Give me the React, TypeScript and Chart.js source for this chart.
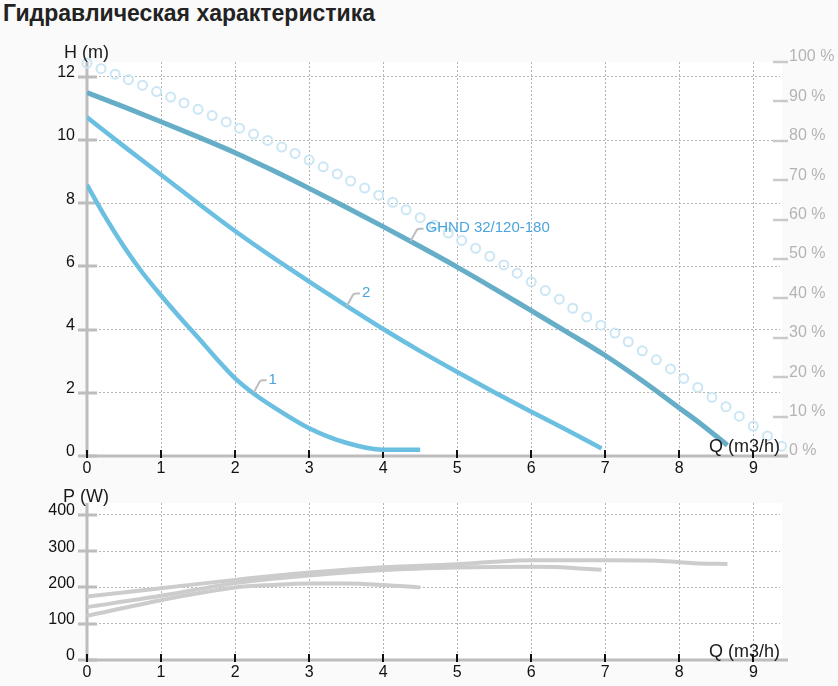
import { useEffect, useRef } from "react";
import { Chart, registerables } from "chart.js";

Chart.register(...registerables);

const FONT = "'Liberation Sans', Arial, sans-serif";

// ---- axis ranges ----
const X_MAX = 9.36;
const H_MAX = 12.47;
const P_MAX = 433;

// ---- H(Q) curves ----
const ghndQ = [0, 0.5, 1, 1.5, 2, 2.5, 3, 3.5, 4, 4.5, 5, 5.5, 6, 6.5, 7, 7.5, 8, 8.3, 8.65];
const ghndH = [11.5, 11.05, 10.58, 10.1, 9.6, 9.05, 8.47, 7.87, 7.26, 6.63, 5.98, 5.3, 4.6, 3.9, 3.18, 2.38, 1.52, 1.0, 0.34];

const speed2Q = [0, 0.5, 1, 1.5, 2, 2.5, 3, 3.5, 4, 4.5, 5, 5.5, 6, 6.5, 6.95];
const speed2H = [10.72, 9.8, 8.9, 8.0, 7.12, 6.3, 5.52, 4.76, 4.02, 3.32, 2.66, 2.02, 1.4, 0.8, 0.24];

const speed1Q = [0, 0.25, 0.5, 0.75, 1, 1.25, 1.5, 1.75, 2, 2.25, 2.5, 3, 3.5, 4, 4.5];
const speed1H = [8.58, 7.55, 6.62, 5.8, 5.08, 4.4, 3.75, 3.08, 2.46, 1.98, 1.58, 0.88, 0.42, 0.2, 0.2];

// ---- efficiency (%) ----
const effQ = [0, 0.19, 0.38, 0.56, 0.75, 0.94, 1.13, 1.31, 1.5, 1.69, 1.88, 2.06, 2.25, 2.44, 2.63, 2.81, 3.0, 3.19, 3.38, 3.56, 3.75, 3.94, 4.13, 4.31, 4.5, 4.69, 4.88, 5.06, 5.25, 5.44, 5.63, 5.81, 6.0, 6.19, 6.38, 6.56, 6.75, 6.94, 7.13, 7.31, 7.5, 7.69, 7.88, 8.06, 8.25, 8.44, 8.63, 8.81, 9.0, 9.19, 9.38];
const effV = [99.7, 98.3, 96.9, 95.5, 94.1, 92.5, 91.1, 89.6, 88.0, 86.4, 84.8, 83.2, 81.7, 80.1, 78.4, 76.8, 75.1, 73.4, 71.6, 69.8, 68.0, 66.2, 64.4, 62.5, 60.5, 58.6, 56.6, 54.7, 52.7, 50.7, 48.5, 46.4, 44.2, 42.0, 39.8, 37.5, 35.3, 33.2, 31.2, 29.0, 26.7, 24.4, 22.1, 19.7, 17.4, 14.9, 12.5, 10.1, 7.6, 5.1, 2.5];

// ---- P(Q) curves ----
const powGhndQ = [0, 1, 2, 3, 4, 5, 5.5, 6, 7, 7.7, 8.2, 8.65];
const powGhndP = [175, 198, 221, 241, 256, 264, 271, 275, 275, 274, 267, 265];
const pow2Q = [0, 1, 2, 3, 4, 5, 6, 6.4, 6.6, 6.95];
const pow2P = [146, 177, 212, 233, 248, 255, 257, 256, 253, 249];
const pow1Q = [0, 1, 2, 2.5, 3, 3.5, 4, 4.5];
const pow1P = [122, 165, 200, 207, 211, 211, 207, 200];

// ---- curve labels ----
const curveLabels = ["GHND 32/120-180", "2", "1"];
const labelAnchorQ = [4.37, 3.51, 2.25];
const labelAnchorH = [6.8, 4.75, 2.0];

const toXY = (qs: number[], vs: number[]) => qs.map((q, i) => ({ x: q, y: vs[i] }));

function line(ctx: CanvasRenderingContext2D, x1: number, y1: number, x2: number, y2: number) {
  ctx.beginPath();
  ctx.moveTo(x1, y1);
  ctx.lineTo(x2, y2);
  ctx.stroke();
}

function makeDecor(yTitle: string, yTitlePos: [number, number], qTitleY: number, withLabels: boolean) {
  return {
    id: "decor",
    beforeDraw(chart: any) {
      const { ctx, chartArea: a } = chart;
      ctx.save();
      ctx.fillStyle = "#ffffff";
      ctx.fillRect(a.left, a.top, a.right - a.left + 2, a.bottom - a.top);
      ctx.restore();
    },
    beforeDatasetsDraw(chart: any) {
      const { ctx, chartArea: a } = chart;
      const xs = chart.scales.x;
      const ys = chart.scales.y;
      ctx.save();
      ctx.lineCap = "butt";
      const y2 = chart.scales.y2;
      if (y2) {
        ctx.strokeStyle = "#cacaca";
        ctx.lineWidth = 2.5;
        y2.ticks.forEach((t: any) => {
          const py = Math.round(y2.getPixelForValue(t.value));
          line(ctx, a.right - 7, py, a.right + 8, py);
        });
      }
      ctx.strokeStyle = "#bdbdbd";
      ctx.lineWidth = 3;
      line(ctx, a.left, a.top, a.left, a.bottom);
      line(ctx, a.left, a.bottom, a.right + 8, a.bottom);
      ys.ticks.forEach((t: any) => {
        const py = Math.round(ys.getPixelForValue(t.value));
        line(ctx, a.left - 9, py, a.left + 10, py);
      });
      ctx.strokeStyle = "#111111";
      ctx.lineWidth = 2;
      xs.ticks.forEach((t: any) => {
        const px = Math.round(xs.getPixelForValue(t.value));
        line(ctx, px, a.bottom - 6, px, a.bottom + 2);
      });
      ctx.restore();
    },
    afterDatasetsDraw(chart: any) {
      const { ctx } = chart;
      ctx.save();
      ctx.fillStyle = "#1a1a1a";
      ctx.font = `18px ${FONT}`;
      ctx.textBaseline = "middle";
      ctx.textAlign = "left";
      ctx.fillText(yTitle, yTitlePos[0], yTitlePos[1]);
      ctx.textAlign = "right";
      ctx.fillText("Q (m3/h)", chart.chartArea.right, qTitleY);
      if (withLabels) {
        const xs = chart.scales.x;
        const ys = chart.scales.y;
        curveLabels.forEach((txt, i) => {
          const px = xs.getPixelForValue(labelAnchorQ[i]);
          const py = ys.getPixelForValue(labelAnchorH[i]);
          ctx.strokeStyle = "#bdbdbd";
          ctx.lineWidth = 2;
          ctx.beginPath();
          ctx.moveTo(px, py);
          ctx.lineTo(px + 6, py - 11);
          ctx.quadraticCurveTo(px + 7, py - 12.5, px + 9, py - 12.5);
          ctx.lineTo(px + 13, py - 12.5);
          ctx.stroke();
          ctx.fillStyle = "#4ba5dc";
          ctx.font = `15px ${FONT}`;
          ctx.textAlign = "left";
          ctx.textBaseline = "middle";
          ctx.fillText(txt, px + 15, py - 13);
        });
      }
      ctx.restore();
    },
  };
}

const tickFont = { family: FONT, size: 16 };

function xScale(h: number) {
  return {
    type: "linear",
    min: 0,
    max: X_MAX,
    ticks: { stepSize: 1, includeBounds: false, font: tickFont, color: "#111", padding: 3, maxRotation: 0, autoSkip: false },
    grid: { color: "#b4b4b4", lineWidth: 1, drawTicks: false },
    border: { display: false, dash: [2, 2] },
    afterFit: (s: any) => {
      s.height = h;
    },
  };
}

export default function App() {
  const topRef = useRef<HTMLCanvasElement>(null);
  const botRef = useRef<HTMLCanvasElement>(null);

  useEffect(() => {
    const top = new Chart(topRef.current as HTMLCanvasElement, {
      type: "line",
      data: {
        datasets: [
          {
            data: toXY(effQ, effV),
            yAxisID: "y2",
            showLine: false,
            pointRadius: 4.5,
            pointBorderWidth: 2,
            pointBorderColor: "#cbe6f4",
            pointBackgroundColor: "rgba(255,255,255,0)",
            clip: false,
          } as any,
          {
            data: toXY(ghndQ, ghndH),
            yAxisID: "y",
            borderColor: "#66aec8",
            borderWidth: 5,
            pointRadius: 0,
            cubicInterpolationMode: "monotone",
          },
          {
            data: toXY(speed2Q, speed2H),
            yAxisID: "y",
            borderColor: "#6bbfe1",
            borderWidth: 4.5,
            pointRadius: 0,
            cubicInterpolationMode: "monotone",
          },
          {
            data: toXY(speed1Q, speed1H),
            yAxisID: "y",
            borderColor: "#6bbfe1",
            borderWidth: 4.5,
            pointRadius: 0,
            cubicInterpolationMode: "monotone",
          },
        ],
      },
      options: {
        responsive: false,
        animation: false,
        events: [],
        layout: { padding: { top: 62, left: 0, right: 0, bottom: 0 } },
        plugins: { legend: { display: false }, tooltip: { enabled: false } },
        scales: {
          x: xScale(24) as any,
          y: {
            type: "linear",
            min: 0,
            max: H_MAX,
            ticks: { stepSize: 2, includeBounds: false, font: tickFont, color: "#111", padding: 12, labelOffset: -4 },
            grid: { color: "#b4b4b4", lineWidth: 1, drawTicks: false },
            border: { display: false, dash: [2, 2] },
            afterFit: (s: any) => {
              s.width = 87;
            },
          } as any,
          y2: {
            type: "linear",
            position: "right",
            min: 0,
            max: 100,
            ticks: {
              stepSize: 10,
              includeBounds: false,
              font: tickFont,
              color: "#b4b4b4",
              padding: 9,
              labelOffset: -5,
              callback: (v: any) => `${v} %`,
            },
            grid: { display: false, drawTicks: false },
            border: { display: false },
            afterFit: (s: any) => {
              s.width = 58;
            },
          } as any,
        },
      },
      plugins: [makeDecor("H (m)", [64, 53], 447, true) as any],
    });

    const bot = new Chart(botRef.current as HTMLCanvasElement, {
      type: "line",
      data: {
        datasets: [
          { data: toXY(powGhndQ, powGhndP), borderColor: "#cccccc", borderWidth: 4, pointRadius: 0, cubicInterpolationMode: "monotone" },
          { data: toXY(pow2Q, pow2P), borderColor: "#cccccc", borderWidth: 4, pointRadius: 0, cubicInterpolationMode: "monotone" },
          { data: toXY(pow1Q, pow1P), borderColor: "#cccccc", borderWidth: 4, pointRadius: 0, cubicInterpolationMode: "monotone" },
        ],
      },
      options: {
        responsive: false,
        animation: false,
        events: [],
        layout: { padding: { top: 23, left: 0, right: 58, bottom: 0 } },
        plugins: { legend: { display: false }, tooltip: { enabled: false } },
        scales: {
          x: xScale(26) as any,
          y: {
            type: "linear",
            min: 0,
            max: P_MAX,
            ticks: { stepSize: 100, includeBounds: false, font: tickFont, color: "#111", padding: 12, labelOffset: -4 },
            grid: { color: "#b4b4b4", lineWidth: 1, drawTicks: false },
            border: { display: false, dash: [2, 2] },
            afterFit: (s: any) => {
              s.width = 87;
            },
          } as any,
        },
      },
      plugins: [makeDecor("P (W)", [63, 17], 172, false) as any],
    });

    return () => {
      top.destroy();
      bot.destroy();
    };
  }, []);

  return (
    <div style={{ position: "absolute", left: 0, top: 0, width: 838, height: 686, background: "#fafafa", overflow: "hidden" }}>
      <div
        style={{
          position: "absolute",
          left: 3,
          top: 2,
          font: `bold 23px ${FONT}`,
          lineHeight: "23px",
          color: "#222",
          whiteSpace: "nowrap",
        }}
      >
        Гидравлическая характеристика
      </div>
      <canvas ref={topRef} width={838} height={480} style={{ position: "absolute", left: 0, top: 0 }} />
      <canvas ref={botRef} width={838} height={206} style={{ position: "absolute", left: 0, top: 480 }} />
    </div>
  );
}
